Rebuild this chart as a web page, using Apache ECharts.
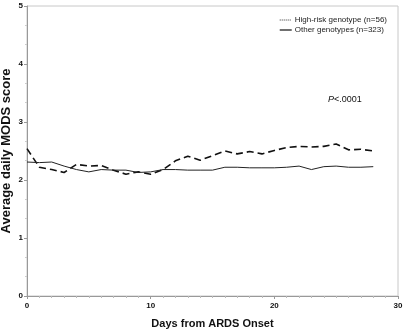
<!DOCTYPE html>
<html>
<head>
<meta charset="utf-8">
<script src="https://cdn.jsdelivr.net/npm/echarts@6/dist/echarts.min.js"></script>
<style>
  html, body { margin: 0; padding: 0; background: #fff; }
  #chart { width: 406px; height: 333px; }
</style>
</head>
<body>
<div id="chart"></div>
<script>
var days = [0, 1, 2, 3, 4, 5, 6, 7, 8, 9, 10, 11, 12, 13, 14, 15, 16, 17, 18, 19, 20, 21, 22, 23, 24, 25, 26, 27, 28];
// high-risk genotype (dashed)
var highRisk = [2.54, 2.22, 2.18, 2.13, 2.27, 2.24, 2.25, 2.17, 2.10, 2.14, 2.10, 2.18, 2.33, 2.41, 2.34, 2.42, 2.50,
  2.45, 2.49, 2.45, 2.51, 2.56, 2.58, 2.57, 2.58, 2.62, 2.52, 2.53, 2.50];
// other genotypes (solid)
var other = [2.31, 2.30, 2.31, 2.24, 2.18, 2.14, 2.18, 2.17, 2.17, 2.13, 2.14, 2.18, 2.18, 2.17, 2.17, 2.17, 2.22,
  2.22, 2.21, 2.21, 2.21, 2.22, 2.24, 2.18, 2.23, 2.24, 2.22, 2.22, 2.23];
var legendNames = ['High-risk genotype (n=56)', 'Other genotypes (n=323)'];

var chart = echarts.init(document.getElementById('chart'));

function pairs(ys) {
  return days.map(function (d, i) { return [d, ys[i]]; });
}

var font = 'Liberation Sans, Arial, sans-serif';

var option = {
  animation: false,
  grid: {
    left: 27,
    right: 8,
    top: 6,
    bottom: 37,
    containLabel: false,
    outerBoundsMode: 'none',
    show: true,
    borderColor: '#c8c8c8',
    borderWidth: 1
  },
  legend: {
    right: 14,
    top: 11,
    orient: 'vertical',
    itemWidth: 12,
    itemHeight: 8,
    itemGap: 2,
    itemStyle: { opacity: 0 },
    textStyle: { fontFamily: font, fontSize: 8, color: '#222', padding: [0, 0, 0, -2] },
    data: [
      { name: legendNames[0], lineStyle: { type: [1, 1], width: 1, color: '#333' } },
      { name: legendNames[1], lineStyle: { type: 'solid', width: 1.2, color: '#111' } }
    ]
  },
  xAxis: {
    type: 'value',
    min: 0,
    max: 30,
    interval: 10,
    name: 'Days from ARDS Onset',
    nameLocation: 'middle',
    nameGap: 22,
    nameMoveOverlap: false,
    nameTextStyle: { fontFamily: font, fontSize: 11, fontWeight: 'bold', color: '#111' },
    axisLine: { lineStyle: { color: '#999' } },
    axisTick: { length: 3, lineStyle: { color: '#999' } },
    minorTick: { show: true, splitNumber: 10, length: 2, lineStyle: { color: '#bbb' } },
    splitLine: { show: false },
    axisLabel: { fontFamily: font, fontSize: 8, fontWeight: 'bold', color: '#111', margin: 6 }
  },
  yAxis: {
    type: 'value',
    min: 0,
    max: 5,
    interval: 1,
    name: 'Average daily MODS score',
    nameLocation: 'middle',
    nameGap: 14,
    nameMoveOverlap: false,
    nameTextStyle: { fontFamily: font, fontSize: 13, fontWeight: 'bold', color: '#111' },
    axisLine: { show: true, lineStyle: { color: '#999' } },
    axisTick: { show: true, length: 3, lineStyle: { color: '#999' } },
    minorTick: { show: true, splitNumber: 3, length: 2, lineStyle: { color: '#ccc' } },
    splitLine: { show: false },
    axisLabel: { fontFamily: font, fontSize: 8, fontWeight: 'bold', color: '#111', margin: 4 }
  },
  graphic: [{
    type: 'text',
    left: 328,
    top: 95,
    style: {
      rich: {
        p: { fontFamily: font, fontSize: 9, fontStyle: 'italic', fill: '#111' },
        r: { fontFamily: font, fontSize: 9, fill: '#111' }
      },
      text: '{p|P}{r|<.0001}'
    }
  }],
  series: [
    {
      name: legendNames[0],
      type: 'line',
      data: pairs(highRisk),
      showSymbol: false,
      symbol: 'none',
      lineStyle: { color: '#111', width: 1.6, type: [7, 4] },
      itemStyle: { color: '#111' }
    },
    {
      name: legendNames[1],
      type: 'line',
      data: pairs(other),
      showSymbol: false,
      symbol: 'none',
      lineStyle: { color: '#222', width: 1 },
      itemStyle: { color: '#222' }
    }
  ]
};

chart.setOption(option);
</script>
</body>
</html>
